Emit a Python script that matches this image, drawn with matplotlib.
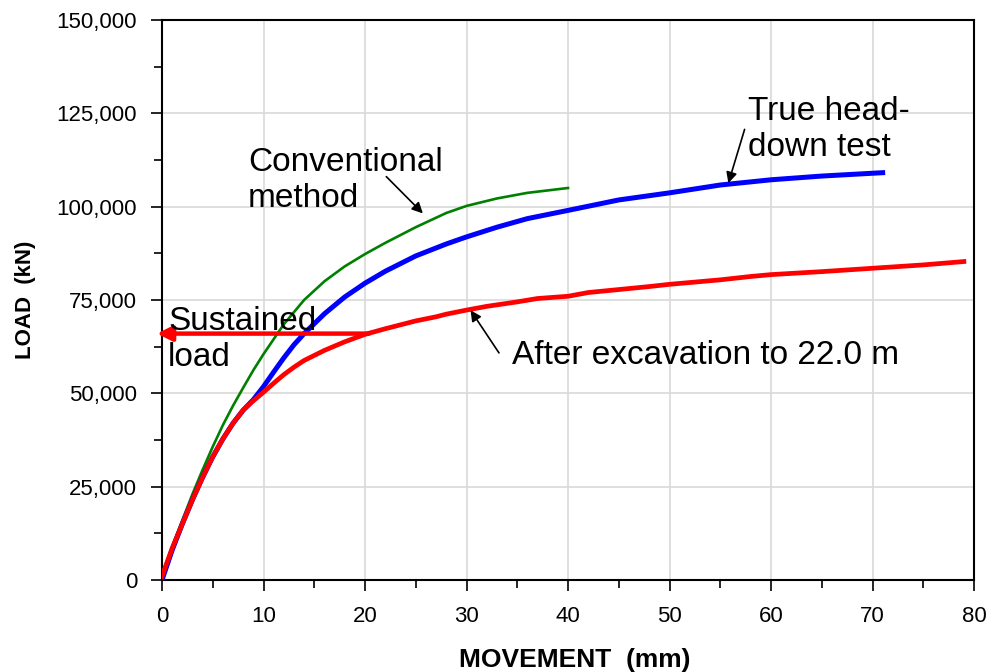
import matplotlib
matplotlib.use('Agg')
import matplotlib.pyplot as plt
from matplotlib.ticker import MultipleLocator, FuncFormatter

plt.rcParams['font.family'] = ['Liberation Sans', 'DejaVu Sans']

# Conventional method (green)
conv_x = [0, 1, 2, 3, 4, 5, 6, 7, 8, 9, 10, 12, 14, 16, 18, 20, 22, 25, 28, 30, 33, 36, 40]
conv_y = [1500, 9000, 16000, 23000, 29500, 35700, 41500, 46700, 51500, 56200, 60500, 68500,
          75000, 80000, 84000, 87300, 90300, 94500, 98300, 100200, 102200, 103700, 105000]

# True head-down test (blue)
true_x = [0, 1, 2, 3, 4, 5, 6, 7, 8, 9, 10, 11, 12, 13, 14, 16, 18, 20, 22, 25, 28, 30,
          33, 36, 40, 45, 50, 55, 60, 65, 71]
true_y = [0, 8000, 15000, 21500, 27500, 33000, 37800, 42000, 45500, 48300, 51800, 55700,
          59500, 63000, 66000, 71300, 75800, 79500, 82700, 86800, 90000, 91900, 94500,
          96800, 99000, 101800, 103700, 105800, 107200, 108200, 109100]

# After excavation to 22.0 m (red)
exc_x = [0, 1, 2, 3, 4, 5, 6, 7, 8, 9, 10, 11, 12, 13, 14, 16, 18, 20, 22, 24, 25, 27, 28,
         30, 32, 35, 37, 40, 42, 45, 48, 50, 55, 58, 60, 65, 70, 75, 79]
exc_y = [1000, 8500, 15000, 21500, 27500, 33000, 37800, 42000, 45500, 48000, 50300, 52700,
         55000, 57000, 58800, 61500, 63800, 65800, 67300, 68700, 69400, 70500, 71200,
         72300, 73300, 74500, 75400, 76000, 77000, 77800, 78600, 79200, 80400, 81300,
         81800, 82600, 83500, 84400, 85300]

sustained_load = 66000
sustained_end = 20.4

fig = plt.figure(figsize=(9.92, 6.72), dpi=100)
ax = fig.add_axes([162/992, 1 - 580/672, (974 - 162)/992, (580 - 20)/672])

ax.plot(conv_x, conv_y, color='#008000', lw=1.9, zorder=3)
ax.plot(true_x, true_y, color='#0000ff', lw=3.6, zorder=3)
ax.plot(exc_x, exc_y, color='#ff0000', lw=3.4, zorder=3)

# sustained load arrow
ax.annotate('', xy=(-0.5, sustained_load), xytext=(sustained_end, sustained_load),
            arrowprops=dict(arrowstyle='-|>', color='#ff0000', lw=3.2,
                            mutation_scale=22, shrinkA=0, shrinkB=0),
            annotation_clip=False, zorder=4)

# text labels with pointers
arrow_kw = dict(arrowstyle='-|>', color='black', lw=1.2, mutation_scale=16,
                shrinkA=0, shrinkB=0)
ax.annotate('', xy=(25.7, 98200), xytext=(22.1, 108050), arrowprops=arrow_kw, zorder=5)
ax.annotate('', xy=(55.8, 106300), xytext=(57.4, 120700), arrowprops=arrow_kw, zorder=5)
ax.annotate('', xy=(30.4, 72260), xytext=(33.2, 60830), arrowprops=arrow_kw, zorder=5)

ax.text(8.47, 115900, 'Conventional\nmethod', fontsize=24, va='top', ha='left', zorder=6)
ax.text(57.7, 129600, 'True head-\ndown test', fontsize=24, va='top', ha='left', zorder=6)
ax.text(0.59, 73260, 'Sustained\nload', fontsize=24, va='top', ha='left', zorder=6)
ax.text(34.5, 64400, 'After excavation to 22.0 m', fontsize=24, va='top', ha='left', zorder=6)

ax.set_xlim(0, 80)
ax.set_ylim(0, 150000)
ax.xaxis.set_major_locator(MultipleLocator(10))
ax.xaxis.set_minor_locator(MultipleLocator(5))
ax.yaxis.set_major_locator(MultipleLocator(25000))
ax.yaxis.set_minor_locator(MultipleLocator(12500))
ax.yaxis.set_major_formatter(FuncFormatter(lambda v, p: f'{int(v):,}'))

ax.tick_params(which='both', direction='out', width=1.2, labelsize=16, colors='black')
ax.tick_params(which='major', length=8)
ax.tick_params(which='minor', length=6)
ax.tick_params(axis='y', pad=10)
ax.tick_params(axis='x', pad=11)

ax.grid(True, which='major', color='#d9d9d9', lw=1.2)
ax.set_axisbelow(True)
for s in ax.spines.values():
    s.set_linewidth(1.5)
    s.set_color('black')

fig.text(575/992, 1 - 667/672, 'MOVEMENT  (mm)', fontsize=19, fontweight='bold',
         ha='center', va='baseline')
fig.text(25/992, 1 - 300/672, 'LOAD  (kN)', fontsize=16, fontweight='bold',
         rotation=90, ha='center', va='center')

fig.savefig('out.png', dpi=100)
